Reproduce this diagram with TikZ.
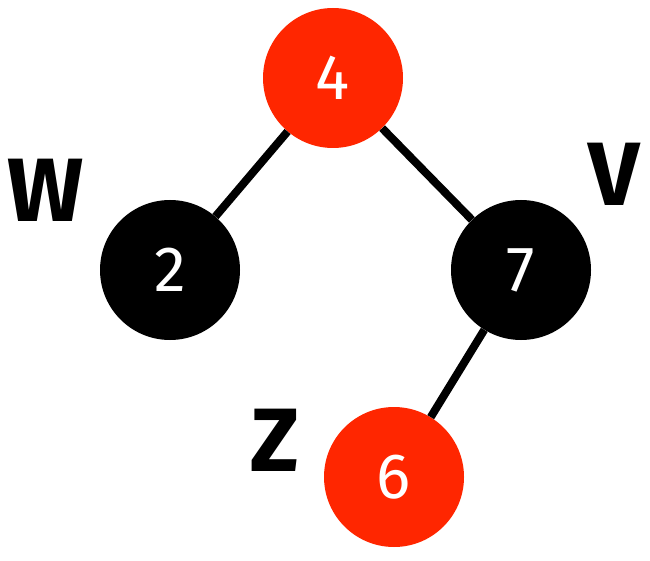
\documentclass[tikz,border=0pt]{standalone}
\usepackage{fontspec}
\setmainfont{Fira Sans}
\definecolor{rbred}{RGB}{255,38,0}

\begin{document}
\begin{tikzpicture}[x=1pt, y=-1pt,
  every node/.style = {shape=circle, minimum size=140pt, inner sep=0pt,
    text=white, font=\fontsize{64}{64}\selectfont},
  rednode/.style = {fill=rbred},
  blacknode/.style = {fill=black},
  tag/.style = {shape=rectangle, minimum size=0pt, text=black,
    font=\fontsize{90}{90}\selectfont\bfseries},
  edge/.style = {line width=8pt}]
  \useasboundingbox (0,0) rectangle (650,561);
  % the tree
  \node[rednode] (n4) at (333,78) {4};
  \node[blacknode] (n2) at (170,270) {2};
  \node[blacknode] (n7) at (521,270) {7};
  \node[rednode] (n6) at (394,477) {6};
  \draw[edge] (n4) -- (n2);
  \draw[edge] (n4) -- (n7);
  \draw[edge] (n7) -- (n6);
  % labels
  \node[tag] (lw) at (46,190) {W};
  \node[tag] (lv) at (614,174) {V};
  \node[tag] (lz) at (275,440) {Z};
\end{tikzpicture}
\end{document}
